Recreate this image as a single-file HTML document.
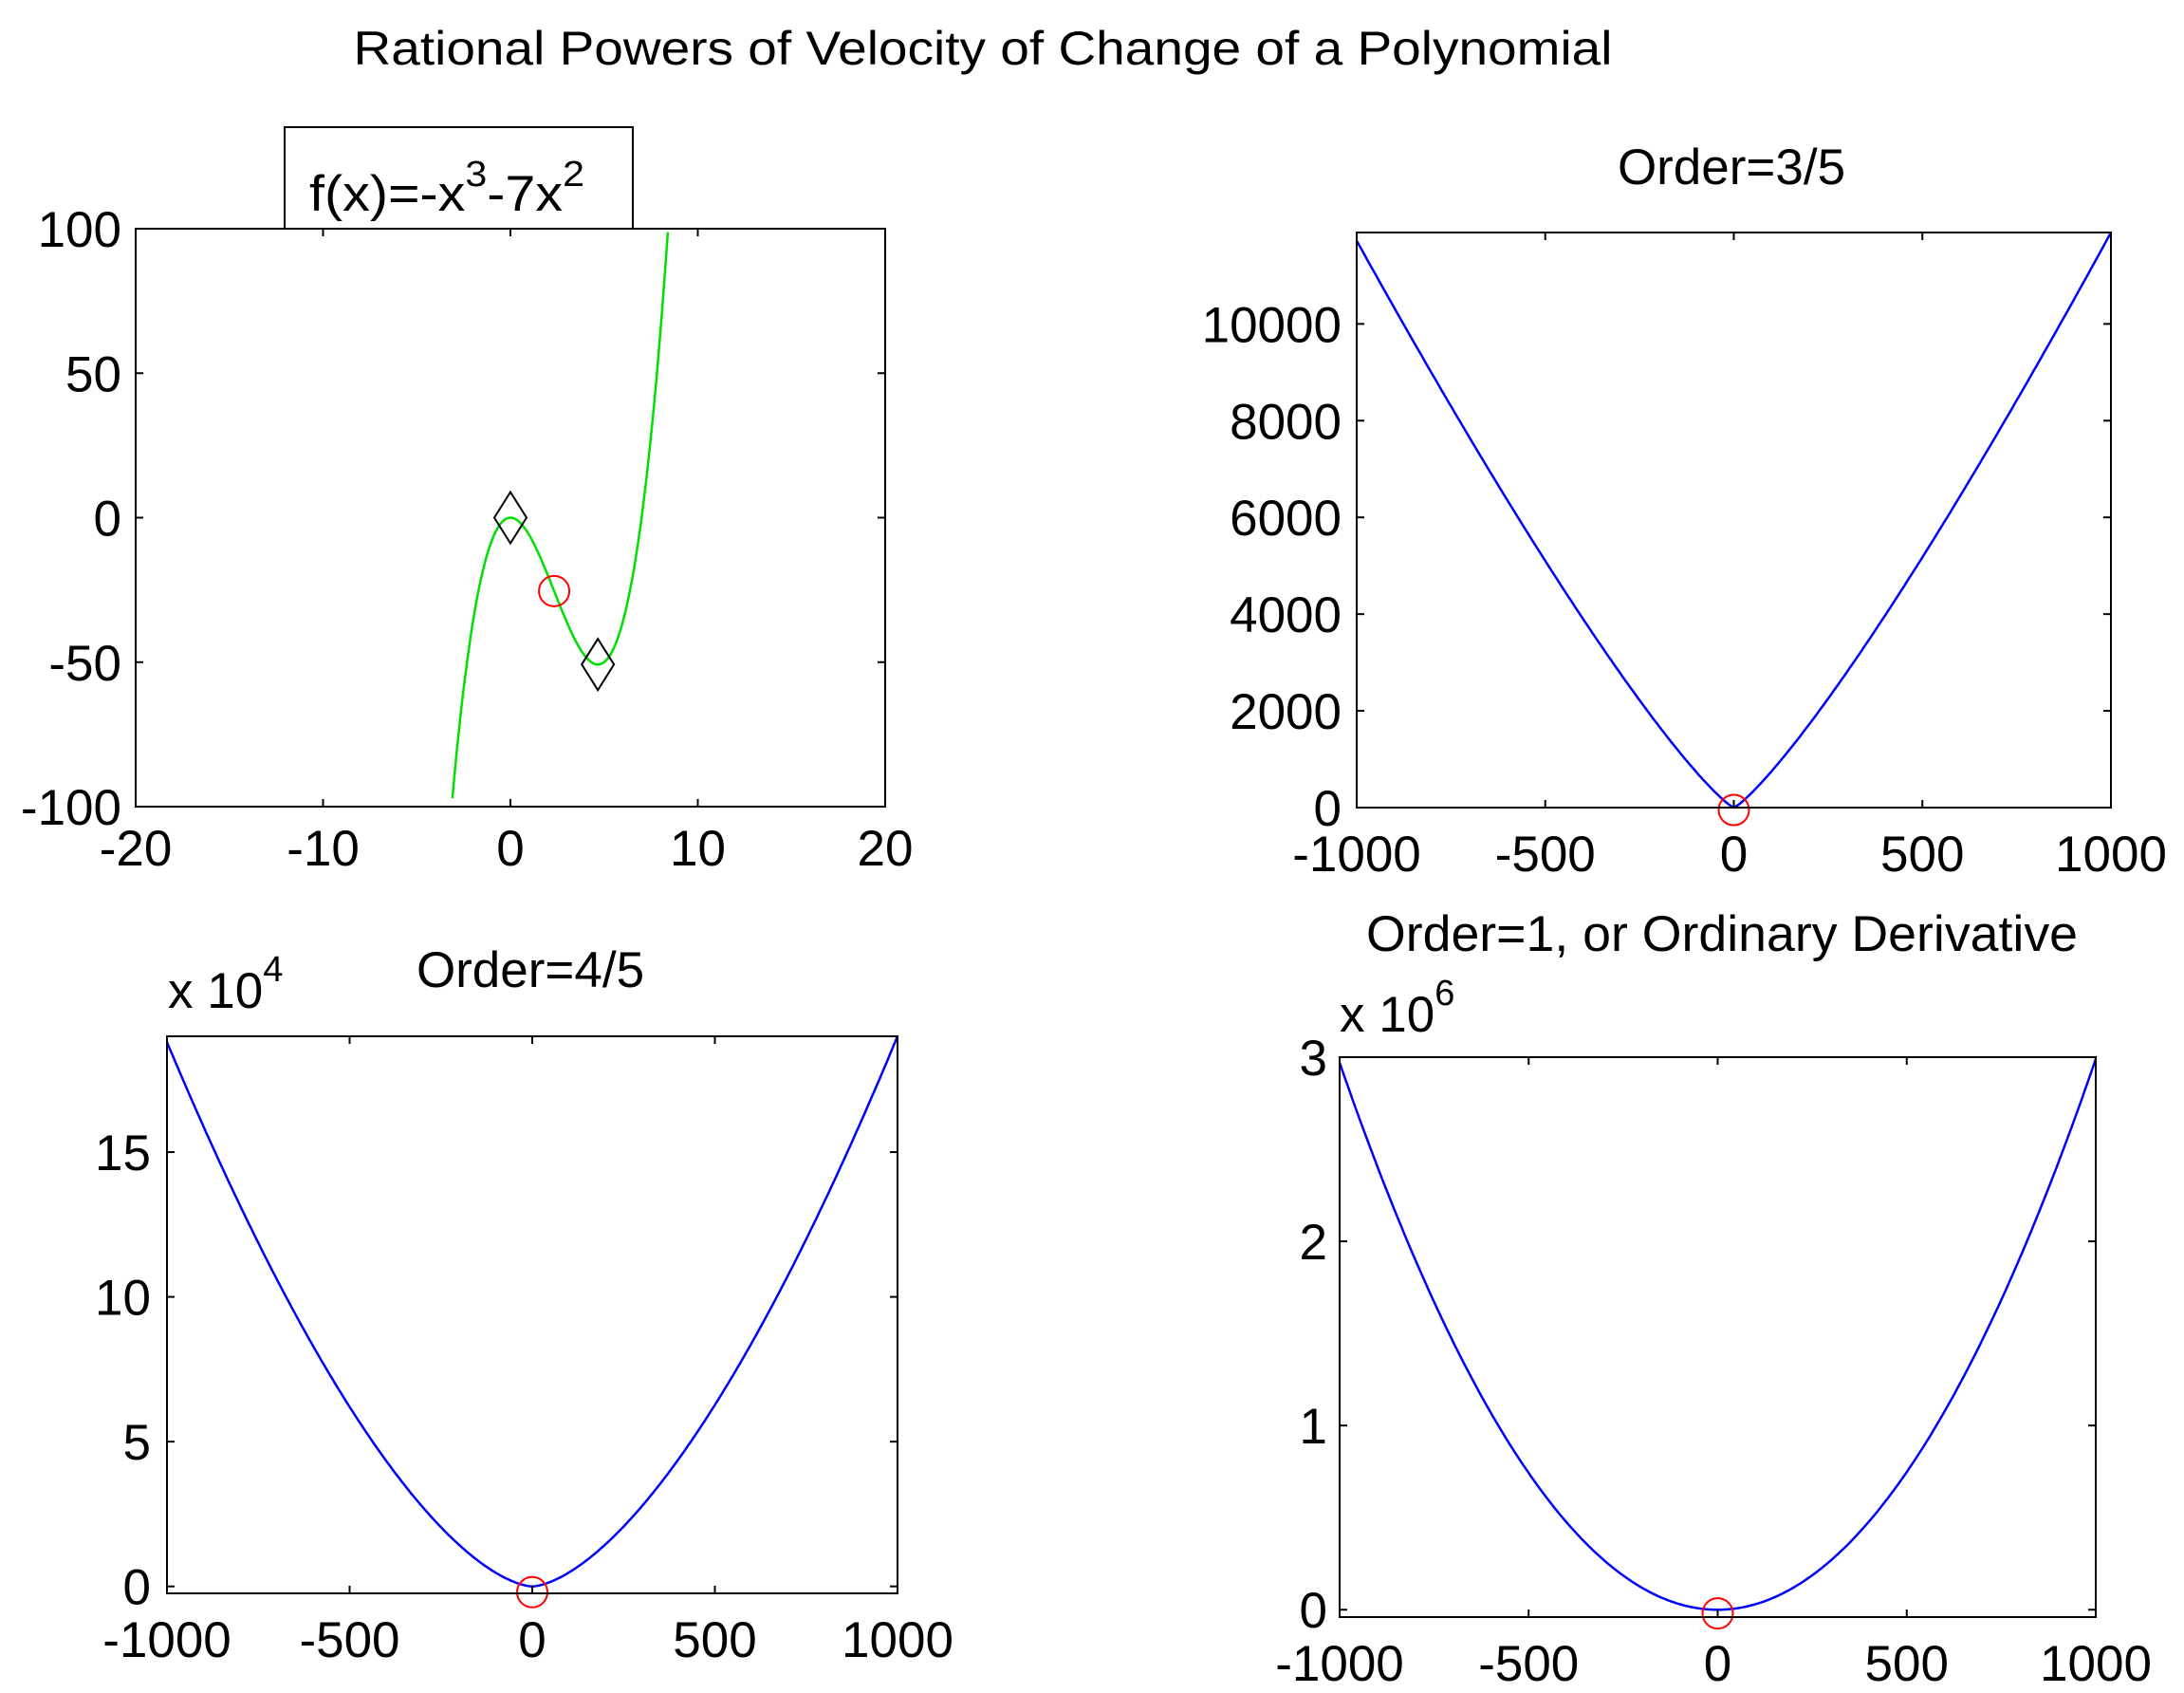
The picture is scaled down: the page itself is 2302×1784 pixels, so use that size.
<!DOCTYPE html>
<html><head><meta charset="utf-8"><style>
html,body{margin:0;padding:0;background:#fff;}
svg{display:block;}
text{font-family:"Liberation Sans",Arial,sans-serif;fill:#000;}
</style></head><body>
<svg id="s" width="2302" height="1784" xmlns="http://www.w3.org/2000/svg">
<rect width="2302" height="1784" fill="#fff"/>
<text x="1036" y="68" font-size="50" text-anchor="middle" textLength="1327" lengthAdjust="spacingAndGlyphs">Rational Powers of Velocity of Change of a Polynomial</text>
<rect x="300" y="134" width="367" height="107" fill="#fff" stroke="#000" stroke-width="2"/>
<text x="326" y="222" font-size="53" textLength="290" lengthAdjust="spacingAndGlyphs">f(x)=-x<tspan font-size="38" dy="-26">3</tspan><tspan dy="26">-7x</tspan><tspan font-size="38" dy="-26">2</tspan></text>
<text x="1825" y="194" font-size="53" text-anchor="middle">Order=3/5</text>
<text x="559" y="1040" font-size="53" text-anchor="middle">Order=4/5</text>
<text x="177" y="1062" font-size="53">x 10<tspan font-size="38" dy="-28">4</tspan></text>
<text x="1815" y="1002" font-size="53" text-anchor="middle" textLength="750" lengthAdjust="spacingAndGlyphs">Order=1, or Ordinary Derivative</text>
<text x="1412" y="1087" font-size="53">x 10<tspan font-size="38" dy="-28">6</tspan></text>
</svg>
<script>
const S=document.getElementById('s'),NS='http://www.w3.org/2000/svg';
function el(t,a,txt){const e=document.createElementNS(NS,t);for(const k in a)e.setAttribute(k,a[k]);if(txt!==undefined)e.textContent=txt;S.appendChild(e);return e;}
function axes(o){
 const {L,R,T,B,x0,x1,y0,y1,xt,yt,xlab,ylab,xb,yr}=o;
 const X=v=>L+(v-x0)/(x1-x0)*(R-L), Y=v=>B-(v-y0)/(y1-y0)*(B-T);
 if(o.f){let d='';const n=400;for(let i=0;i<=n;i++){const x=x0+(x1-x0)*i/n;let y=o.f(x);if(y>y1||y<y0){continue;}d+=(d?'L':'M')+X(x).toFixed(1)+' '+Y(y).toFixed(1);}el('path',{d,fill:'none',stroke:o.col,'stroke-width':2.5});}
 if(o.mk)o.mk(X,Y);
 el('rect',{x:L,y:T,width:R-L,height:B-T,fill:'none',stroke:'#000','stroke-width':2});
 xt.forEach((v,i)=>{const x=X(v);el('line',{x1:x,y1:B,x2:x,y2:B-8,stroke:'#000','stroke-width':2});el('line',{x1:x,y1:T,x2:x,y2:T+8,stroke:'#000','stroke-width':2});
  el('text',{x:x,y:xb,'font-size':53,'text-anchor':'middle'},xlab[i]);});
 yt.forEach((v,i)=>{const y=Y(v);el('line',{x1:L,y1:y,x2:L+8,y2:y,stroke:'#000','stroke-width':2});el('line',{x1:R,y1:y,x2:R-8,y2:y,stroke:'#000','stroke-width':2});
  el('text',{x:yr,y:y+19,'font-size':53,'text-anchor':'end'},ylab[i]);});
}
function circ(X,Y,x,y){el('ellipse',{cx:X(x),cy:Y(y),rx:16,ry:16,fill:'none',stroke:'#f00','stroke-width':2});}
axes({L:143,R:933,T:241,B:850,x0:-20,x1:20,y0:-100,y1:100,xt:[-20,-10,0,10,20],xlab:['-20','-10','0','10','20'],yt:[-100,-50,0,50,100],ylab:['-100','-50','0','50','100'],xb:912,yr:128,
 f:x=>x*x*x-7*x*x,col:'#00e000',mk:(X,Y)=>{[[0,0],[14/3,-50.8]].forEach(p=>{const cx=X(p[0]),cy=Y(p[1]);el('path',{d:`M${cx} ${cy-27}L${cx+17} ${cy}L${cx} ${cy+27}L${cx-17} ${cy}Z`,fill:'none',stroke:'#000','stroke-width':2});});circ(X,Y,7/3,-25.4);}});
axes({L:1430,R:2225,T:245,B:851,x0:-1000,x1:1000,y0:0,y1:11890,xt:[-1000,-500,0,500,1000],xlab:['-1000','-500','0','500','1000'],yt:[0,2000,4000,6000,8000,10000],ylab:['0','2000','4000','6000','8000','10000'],xb:918,yr:1414,
 f:x=>(x<0?11720:11890)*Math.pow(Math.abs(x)/1000,1.2),col:'#0000ff',mk:(X,Y)=>circ(X,Y,0,-50)});
axes({L:176,R:946,T:1092,B:1679,x0:-1000,x1:1000,y0:-0.24,y1:19,xt:[-1000,-500,0,500,1000],xlab:['-1000','-500','0','500','1000'],yt:[0,5,10,15],ylab:['0','5','10','15'],xb:1746,yr:159,
 f:x=>(x<0?18.8:19)*Math.pow(Math.abs(x)/1000,1.6),col:'#0000ff',mk:(X,Y)=>circ(X,Y,0,-0.2)});
axes({L:1412,R:2209,T:1114,B:1704,x0:-1000,x1:1000,y0:-0.04,y1:3,xt:[-1000,-500,0,500,1000],xlab:['-1000','-500','0','500','1000'],yt:[0,1,2,3],ylab:['0','1','2','3'],xb:1771,yr:1399,
 f:x=>(x<0?2.97:2.99)*Math.pow(Math.abs(x)/1000,2),col:'#0000ff',mk:(X,Y)=>circ(X,Y,0,-0.02)});
</script>
</body></html>
